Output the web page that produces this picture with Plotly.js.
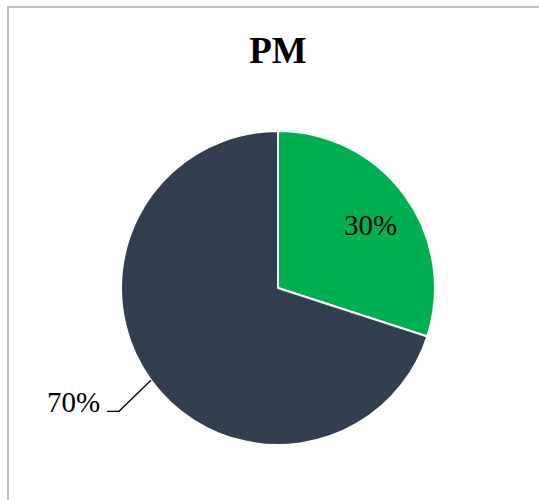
<!DOCTYPE html>
<html><head><meta charset="utf-8">
<script src="https://cdn.plot.ly/plotly-3.0.1.min.js"></script>
<style>html,body{margin:0;padding:0;background:#fff}#chart{width:539px;height:500px}</style>
</head><body><div id="chart"></div>
<script>
const labels = ['A', 'B'];
const values = [30, 70];
const colors = ['#00B050', '#333F50'];
const title = 'PM';

const W = 539, H = 500;
const cx = 278, cy = 288, R = 157;
const total = values.reduce((a, b) => a + b, 0);
const pct = values.map(v => Math.round(v / total * 100) + '%');

// geometry derived from the pie values
const startFrac = values[0] / total;
const mid0 = startFrac / 2 * 2 * Math.PI;
const midFrac = startFrac + values[1] / total / 2;
const ang = midFrac * 2 * Math.PI; // clockwise from top
const ex = cx + R * Math.sin(ang), ey = cy - R * Math.cos(ang);
const kx = ex - 32, ky = ey + 31;
const hx = kx - 12;
const ir = 0.72 * R;
const ix = cx + ir * Math.sin(mid0) + 1, iy = cy - ir * Math.cos(mid0) + 3;
const px = x => x / W, py = y => 1 - y / H;
const lblFont = {family: 'Liberation Serif', size: 29, color: '#000'};

const data = [{
  type: 'pie', labels: labels, values: values, sort: false, direction: 'clockwise', rotation: 0,
  marker: {colors: colors, line: {color: '#ffffff', width: 2}},
  textinfo: 'none',
  hoverinfo: 'none',
  domain: {x: [(cx - R) / W, (cx + R) / W], y: [1 - (cy + R) / H, 1 - (cy - R) / H]}
}];

const layout = {
  width: W, height: H, margin: {l: 0, r: 0, t: 0, b: 0},
  paper_bgcolor: '#fff', showlegend: false,
  title: {text: '<b>' + title + '</b>', font: {family: 'Liberation Serif', size: 37, color: '#000'},
          x: px(278), xanchor: 'center', y: py(50), yanchor: 'middle'},
  shapes: [
    {type: 'rect', xref: 'paper', yref: 'paper', x0: px(8), x1: px(560), y0: py(560), y1: py(7),
     line: {color: '#bfbfbf', width: 2}},
    {type: 'path', xref: 'paper', yref: 'paper',
     path: `M ${px(ex)} ${py(ey)} L ${px(kx)} ${py(ky)} L ${px(hx)} ${py(ky)}`,
     line: {color: '#000', width: 1.3}}
  ],
  annotations: [
    {xref: 'paper', yref: 'paper', x: px(ix), y: py(iy), xanchor: 'center', yanchor: 'middle',
     text: pct[0], showarrow: false, font: lblFont},
    {xref: 'paper', yref: 'paper', x: px(hx - 5), y: py(ky - 9), xanchor: 'right', yanchor: 'middle',
     text: pct[1], showarrow: false, font: lblFont}
  ]
};
Plotly.newPlot('chart', data, layout, {staticPlot: true});
</script></body></html>
